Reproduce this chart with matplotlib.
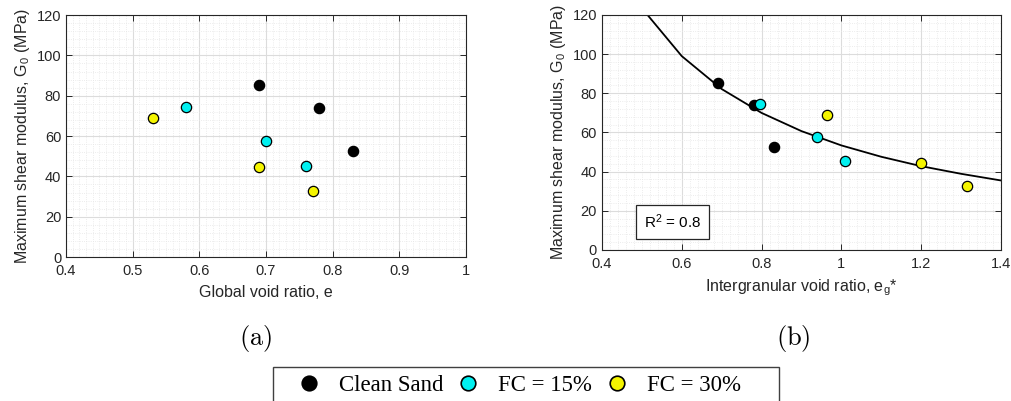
import matplotlib
matplotlib.use('Agg')
import matplotlib.pyplot as plt
from matplotlib.ticker import MultipleLocator, FuncFormatter
from matplotlib.lines import Line2D
from matplotlib.patches import Rectangle

plt.rcParams['font.family'] = ['Liberation Sans', 'DejaVu Sans']
plt.rcParams['mathtext.fontset'] = 'custom'
plt.rcParams['mathtext.rm'] = 'Liberation Sans'
plt.rcParams['mathtext.it'] = 'Liberation Sans'

# data ----------------------------------------------------------------
groups = ['Clean Sand', 'FC = 15%', 'FC = 30%']
colors = ['#000000', '#00f0f0', '#f5f500']

# (a) global void ratio
e_clean = [0.69, 0.78, 0.83]
e_fc15 = [0.58, 0.70, 0.76]
e_fc30 = [0.53, 0.69, 0.77]

# (b) intergranular void ratio
eg_clean = [0.69, 0.78, 0.83]
eg_fc15 = [0.795, 0.94, 1.01]
eg_fc30 = [0.965, 1.20, 1.315]

g0_clean = [85.5, 74.0, 52.5]
g0_fc15 = [74.3, 57.5, 45.2]
g0_fc30 = [69.0, 44.5, 32.5]

# fitted curve
fit_x = [0.5, 0.6, 0.7, 0.8, 0.9, 1.0, 1.1, 1.2, 1.3, 1.4]
fit_y = [123.5, 99.0, 82.2, 70.0, 60.7, 53.4, 47.6, 42.8, 38.9, 35.5]

# figure ----------------------------------------------------------------
fig = plt.figure(figsize=(10.11, 4.01), dpi=100)
ax1 = fig.add_axes([0.0653, 0.359, 0.3957, 0.6035])
ax2 = fig.add_axes([0.5954, 0.3766, 0.3947, 0.586])

def style(ax, xmin, xmax, xmaj, xmin_step):
    ax.set_xlim(xmin, xmax)
    ax.set_ylim(0, 120)
    ax.xaxis.set_major_locator(MultipleLocator(xmaj))
    ax.xaxis.set_minor_locator(MultipleLocator(xmin_step))
    ax.yaxis.set_major_locator(MultipleLocator(20))
    ax.yaxis.set_minor_locator(MultipleLocator(4))
    ax.xaxis.set_major_formatter(FuncFormatter(lambda v, p: '%g' % round(v, 2)))
    ax.grid(True, which='major', color='#dcdcdc', linewidth=0.8)
    ax.grid(True, which='minor', color='#e6e6e6', linewidth=0.6, linestyle=':')
    ax.set_axisbelow(True)
    ax.tick_params(which='both', direction='in', top=True, right=True,
                   labelsize=10.5, colors='#262626')
    ax.tick_params(which='major', length=4, width=0.7)
    ax.tick_params(axis='x', which='major', pad=5)
    ax.tick_params(which='minor', length=0)
    for s in ax.spines.values():
        s.set_color('#262626')
        s.set_linewidth(0.8)
    ax.set_ylabel('Maximum shear modulus, G$_0$ (MPa)', fontsize=11.5, color='#262626', labelpad=3)

style(ax1, 0.4, 1.0, 0.1, 0.01)
style(ax2, 0.4, 1.4, 0.2, 0.02)

kw = dict(s=55, edgecolors='black', linewidths=0.9, zorder=3)
ax1.scatter(e_clean, g0_clean, c=colors[0], **kw)
ax1.scatter(e_fc15, g0_fc15, c=colors[1], **kw)
ax1.scatter(e_fc30, g0_fc30, c=colors[2], **kw)
ax1.set_xlabel('Global void ratio, e', fontsize=11.5, color='#262626', labelpad=5)

ax2.plot(fit_x, fit_y, color='black', linewidth=1.3, zorder=2)
ax2.scatter(eg_clean, g0_clean, c=colors[0], **kw)
ax2.scatter(eg_fc15, g0_fc15, c=colors[1], **kw)
ax2.scatter(eg_fc30, g0_fc30, c=colors[2], **kw)
ax2.set_xlabel('Intergranular void ratio, e$_g$*', fontsize=11.5, color='#262626', labelpad=5)

ax2.text(0.577, 14.5, 'R$^2$ = 0.8', fontsize=11, ha='center', va='center', zorder=4,
         bbox=dict(boxstyle='square,pad=0.5', facecolor='white', edgecolor='#262626', linewidth=0.9))

# subplot captions
fig.text(256 / 1011, 1 - 338 / 401, r'$\mathrm{(a)}$', fontsize=19, ha='center', va='center',
         math_fontfamily='cm')
fig.text(793 / 1011, 1 - 338 / 401, r'$\mathrm{(b)}$', fontsize=19, ha='center', va='center',
         math_fontfamily='cm')

# legend (frame drawn separately, runs off the bottom edge like the original)
handles = [Line2D([], [], marker='o', linestyle='none', markersize=10.5,
                  markerfacecolor=c, markeredgecolor='black', markeredgewidth=1.2)
           for c in colors]
leg = fig.legend(handles, groups, loc='center', ncol=3,
                 bbox_to_anchor=(518 / 1011, 1 - 385 / 401),
                 prop={'family': 'Liberation Serif', 'size': 16.5},
                 frameon=False, handletextpad=0.7, columnspacing=0.5,
                 borderpad=0.0, borderaxespad=0.0, handlelength=1.2)
fig.patches.append(Rectangle((273 / 1011, -0.05), (779 - 273) / 1011, 1 - 367 / 401 + 0.05,
                             transform=fig.transFigure, fill=False,
                             edgecolor='#404040', linewidth=1.0))

fig.savefig('out.png', dpi=100)
